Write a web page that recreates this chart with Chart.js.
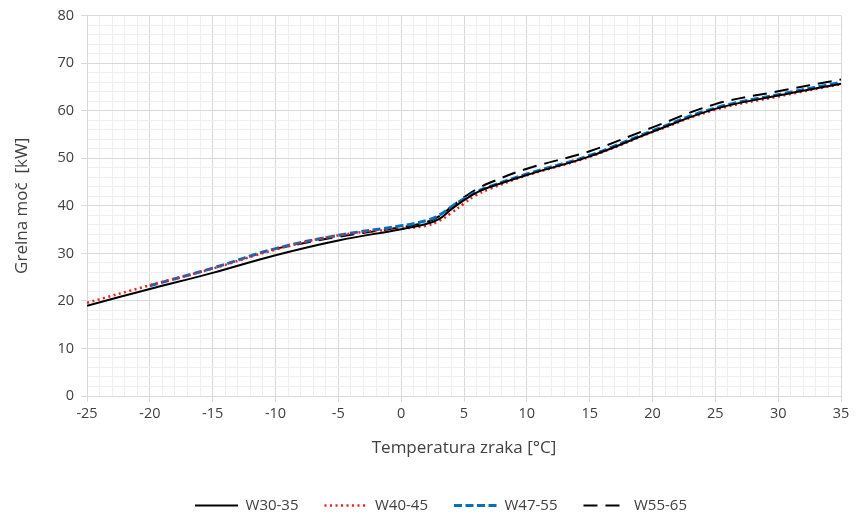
<!DOCTYPE html>
<html>
<head>
<meta charset="utf-8">
<script src="https://cdn.jsdelivr.net/npm/chart.js@4"></script>
<style>
  html, body { margin: 0; padding: 0; background: #fff; }
  #wrap { width: 867px; height: 518px; }
</style>
</head>
<body>
<div id="wrap"><canvas id="chart" width="867" height="518"></canvas></div>
<script>
// temperatures (°C) and heating power (kW)
const tW30 = [-25, -20, -15, -10, -5, 0, 2, 3, 4, 5, 6, 7, 10, 15, 20, 25, 30, 35];
const pW30 = [19.0, 22.5, 25.9, 29.6, 32.7, 35.1, 36.2, 37.2, 39.3, 41.2, 42.8, 43.9, 46.5, 50.4, 55.6, 60.4, 63.2, 65.7];

const tW40 = [-25, -20, -15, -10, -5, 0, 2, 3, 4, 5, 6, 7, 10, 15, 20, 25, 30, 35];
const pW40 = [19.6, 23.3, 26.8, 30.8, 33.8, 35.2, 35.8, 36.8, 38.5, 40.5, 42.3, 43.5, 46.4, 50.3, 55.5, 60.2, 63.0, 65.6];

const tW47 = [-20, -15, -10, -5, 0, 2, 3, 4, 5, 6, 7, 10, 15, 20, 25, 30, 35];
const pW47 = [23.2, 26.9, 31.0, 33.8, 35.8, 36.9, 38.0, 39.8, 41.5, 43.0, 44.0, 46.7, 50.6, 55.8, 60.6, 63.4, 66.0];

const tW55 = [-10, -5, 0, 2, 3, 4, 5, 6, 7, 10, 15, 20, 25, 30, 35];
const pW55 = [31.0, 33.5, 35.5, 36.6, 37.8, 39.8, 41.8, 43.5, 44.8, 47.8, 51.5, 56.5, 61.4, 64.1, 66.6];

const seriesNames = ['W30-35', 'W40-45', 'W47-55', 'W55-65'];

const toXY = (xs, ys) => xs.map((x, i) => ({ x: x, y: ys[i] }));

const textColor = '#404040';
const majorGrid = '#d9d9d9';
const minorGrid = '#efefef';
const fontFamily = '"Open Sans", Lato, sans-serif';

function line(label, data, color, width, dash) {
    return {
        label: label,
        data: data,
        borderColor: color,
        backgroundColor: color,
        borderWidth: width,
        borderDash: dash,
        pointRadius: 0,
        fill: false,
        tension: 0.4
    };
}

new Chart(document.getElementById('chart').getContext('2d'), {
    type: 'line',
    data: {
        datasets: [
            line(seriesNames[0], toXY(tW30, pW30), '#000000', 2, []),
            line(seriesNames[1], toXY(tW40, pW40), '#ff1a1a', 2.5, [2, 3.5]),
            line(seriesNames[2], toXY(tW47, pW47), '#0070c0', 3, [8, 3.5]),
            line(seriesNames[3], toXY(tW55, pW55), '#000000', 2, [14, 8])
        ]
    },
    options: {
        responsive: false,
        animation: false,
        // left padding shifts the centred legend; the y axis width makes up for it
        layout: { padding: { left: 41, right: 26, top: 13, bottom: -5 } },
        plugins: {
            legend: {
                position: 'bottom',
                labels: {
                    usePointStyle: true,
                    pointStyle: 'line',
                    pointStyleWidth: 43,
                    padding: 26,
                    color: textColor,
                    font: { family: fontFamily, size: 15 },
                    generateLabels: chart => {
                        const items = Chart.defaults.plugins.legend.labels.generateLabels(chart);
                        items.forEach(it => {
                            const ds = chart.data.datasets[it.datasetIndex];
                            it.lineDash = ds.borderDash;
                            it.lineWidth = ds.borderWidth;
                            it.strokeStyle = ds.borderColor;
                        });
                        return items;
                    }
                }
            },
            tooltip: { enabled: false }
        },
        scales: {
            x: {
                type: 'linear',
                min: -25,
                max: 35,
                afterFit: scale => { scale.height = 76; },
                ticks: {
                    stepSize: 1,
                    autoSkip: false,
                    maxRotation: 0,
                    padding: 3,
                    color: textColor,
                    font: { family: fontFamily, size: 14.5 },
                    callback: v => (v % 5 === 0 ? v : '')
                },
                grid: {
                    color: c => (c.tick && c.tick.value % 5 === 0 ? majorGrid : minorGrid),
                    tickColor: c => (c.tick && c.tick.value % 5 === 0 ? majorGrid : 'rgba(0,0,0,0)'),
                    tickLength: 6
                },
                border: { color: majorGrid },
                title: {
                    display: true,
                    text: 'Temperatura zraka [°C]',
                    color: textColor,
                    font: { family: fontFamily, size: 17 },
                    padding: { top: 10, bottom: 14 }
                }
            },
            y: {
                min: 0,
                max: 80,
                afterFit: scale => { scale.width = 46; },
                ticks: {
                    stepSize: 2,
                    autoSkip: false,
                    padding: 7,
                    color: textColor,
                    font: { family: fontFamily, size: 14.5 },
                    callback: v => (v % 10 === 0 ? v : '')
                },
                grid: {
                    color: c => (c.tick && c.tick.value % 10 === 0 ? majorGrid : minorGrid),
                    tickColor: c => (c.tick && c.tick.value % 10 === 0 ? majorGrid : 'rgba(0,0,0,0)'),
                    tickLength: 6
                },
                border: { color: majorGrid },
                title: {
                    display: true,
                    text: 'Grelna moč  [kW]',
                    color: textColor,
                    font: { family: fontFamily, size: 17 },
                    padding: { top: -29, bottom: 0 }
                }
            }
        }
    }
});
</script>
</body>
</html>
